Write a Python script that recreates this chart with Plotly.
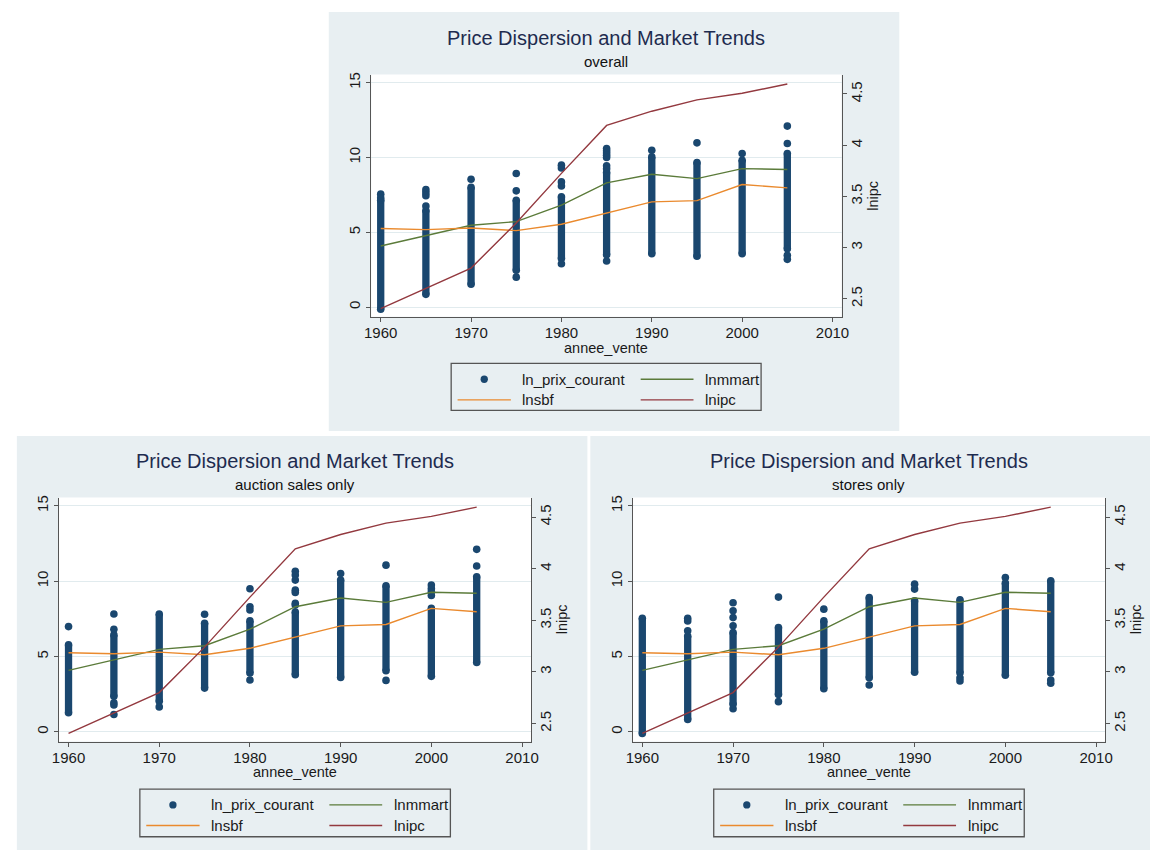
import plotly.graph_objects as go

W, H = 1158, 850

# ---------------- data ----------------
years = [1960, 1965, 1970, 1975, 1980, 1985, 1990, 1995, 2000, 2005]

lnmmart = [4.08, 4.80, 5.47, 5.71, 6.81, 8.30, 8.88, 8.59, 9.26, 9.20]
lnsbf = [5.25, 5.18, 5.29, 5.11, 5.54, 6.29, 7.03, 7.12, 8.19, 7.97]
lnipc = [2.405, 2.600, 2.800, 3.240, 3.725, 4.193, 4.332, 4.442, 4.507, 4.597]

# ln_prix_courant: each year's dense band (lowest / highest observation of the
# continuous band) plus the isolated observations outside / around it
overall_lo = [-0.15, 0.85, 1.52, 2.46, 3.24, 3.50, 3.57, 3.40, 3.57, 3.90]
overall_hi = [7.15, 6.45, 8.00, 7.14, 7.37, 9.00, 10.04, 9.67, 9.82, 10.27]
overall_out = [
    [7.55, 7.30],
    [7.85, 7.65, 7.45, 6.75],
    [8.55],
    [8.93, 7.77, 2.00],
    [9.49, 9.30, 8.37, 8.10, 2.90],
    [10.60, 10.45, 10.30, 10.15, 10.00, 9.45, 9.25, 3.08],
    [10.49],
    [10.98],
    [10.27],
    [12.10, 10.94, 3.46, 3.19],
]

auction_lo = [1.26, 2.36, 2.03, 2.90, 3.90, 3.79, 3.61, 4.05, 3.68, 4.60]
auction_hi = [5.77, 6.43, 7.82, 7.20, 7.36, 7.95, 10.07, 9.69, 8.19, 10.29]
auction_out = [
    [6.98],
    [7.82, 6.81, 1.92, 1.78, 1.15],
    [1.65],
    [7.80],
    [9.49, 8.30, 8.08, 3.44],
    [10.66, 10.40, 10.07, 9.40, 9.25, 8.52, 8.41],
    [10.50],
    [11.06, 3.41],
    [9.74, 9.50, 9.30, 9.05],
    [12.11, 11.00],
]

stores_lo = [-0.11, 0.82, 1.82, 2.48, 2.86, 3.59, 3.95, 3.92, 3.75, 3.92]
stores_hi = [7.54, 6.36, 6.59, 6.92, 7.36, 8.91, 8.70, 8.76, 9.87, 10.02]
stores_out = [
    [],
    [7.54, 7.36, 6.70],
    [8.56, 8.03, 7.58, 7.03, 1.53],
    [8.94, 2.00],
    [8.14],
    [3.10],
    [9.80, 9.47],
    [3.59, 3.37],
    [10.24],
    [3.44, 3.22],
]

main_title = "Price Dispersion and Market Trends"
subtitles = ["overall", "auction sales only", "stores only"]
series_names = ["ln_prix_courant", "lnmmart", "lnsbf", "lnipc"]
x_title = "annee_vente"
right_title = "lnipc"

x_ticks = [1960, 1970, 1980, 1990, 2000, 2010]
left_ticks = [0, 5, 10, 15]
right_ticks = [2.5, 3, 3.5, 4, 4.5]
right_ticktext = ["2.5", "3", "3.5", "4", "4.5"]

# ---------------- styles / layout geometry ----------------
NAVY = "#1A476F"
GREEN = "#5B7B3A"
ORANGE = "#EA8A2E"
MAROON = "#93393F"
PANEL_BG = "#E8EFF2"
GRID = "#E1EBEE"
AXIS = "#555555"
TITLE_C = "#1E2B4F"
TXT = "#1a1a1a"
FONT = "Liberation Sans"

X_RANGE = [1958.95, 2011.0]
YL_RANGE = [-0.65, 15.55]
YR_RANGE = [2.325, 4.69]

panels = [
    dict(lo=overall_lo, hi=overall_hi, out=overall_out, sub=subtitles[0],
         bg=(326, 10, 904, 430), plot=(369, 72.7, 845.5, 315.5),
         title_y=36, sub_y=60, leg=(450, 362.3, 764, 409.3)),
    dict(lo=auction_lo, hi=auction_hi, out=auction_out, sub=subtitles[1],
         bg=(10, 435, 588, 850), plot=(52.7, 496.7, 531, 741.3),
         title_y=460, sub_y=483.3, leg=(134.6, 789, 449.2, 836.7)),
    dict(lo=stores_lo, hi=stores_hi, out=stores_out, sub=subtitles[2],
         bg=(591, 435, 1158, 850), plot=(634, 496.7, 1112.6, 741.3),
         title_y=460, sub_y=483.3, leg=(716, 789, 1030.6, 836.7)),
]


def fx(p):
    return p / W


def fy(p):
    return 1 - p / H


fig = go.Figure()
shapes = []
annotations = []
layout_axes = {}

for i, p in enumerate(panels):
    n = i + 1
    xa = "x" if n == 1 else f"x{n}"
    ya = "y" if n == 1 else f"y{n}"
    yr = f"y{n + 3}"

    # dense bands
    bx, by = [], []
    for yv, lo, hi in zip(years, p["lo"], p["hi"]):
        bx += [yv, yv, None]
        by += [lo, hi, None]
    fig.add_trace(go.Scatter(x=bx, y=by, mode="lines",
                             line=dict(color=NAVY, width=7.3),
                             xaxis=xa, yaxis=ya, showlegend=False,
                             hoverinfo="skip"))
    # individual observations
    mx, my = [], []
    for yv, lo, hi, outs in zip(years, p["lo"], p["hi"], p["out"]):
        for v in [lo, hi] + list(outs):
            mx.append(yv)
            my.append(v)
    fig.add_trace(go.Scatter(x=mx, y=my, mode="markers", name=series_names[0],
                             marker=dict(color=NAVY, size=7.6),
                             xaxis=xa, yaxis=ya, showlegend=False))
    fig.add_trace(go.Scatter(x=years, y=lnmmart, mode="lines", name=series_names[1],
                             line=dict(color=GREEN, width=1.4),
                             xaxis=xa, yaxis=ya, showlegend=False))
    fig.add_trace(go.Scatter(x=years, y=lnsbf, mode="lines", name=series_names[2],
                             line=dict(color=ORANGE, width=1.4),
                             xaxis=xa, yaxis=ya, showlegend=False))
    fig.add_trace(go.Scatter(x=years, y=lnipc, mode="lines", name=series_names[3],
                             line=dict(color=MAROON, width=1.4),
                             xaxis=xa, yaxis=yr, showlegend=False))

    x0, y0, x1, y1 = p["plot"]
    xdom = [fx(x0), fx(x1)]
    ydom = [fy(y1), fy(y0)]
    tickfont = dict(family=FONT, size=15, color=TXT)
    common = dict(showline=True, linecolor=AXIS, linewidth=1.3, ticks="outside",
                  ticklen=4, tickwidth=1, tickcolor=AXIS, zeroline=False,
                  tickfont=tickfont)
    layout_axes["xaxis" if n == 1 else f"xaxis{n}"] = dict(
        domain=xdom, anchor=ya, range=X_RANGE, tickvals=x_ticks,
        showgrid=False, ticklabelstandoff=-2, **common)
    layout_axes["yaxis" if n == 1 else f"yaxis{n}"] = dict(
        domain=ydom, anchor=xa, range=YL_RANGE, tickvals=left_ticks,
        tickangle=-90, showgrid=True, gridcolor=GRID, gridwidth=1.2, **common)
    layout_axes[f"yaxis{n + 3}"] = dict(
        overlaying=ya, anchor=xa, side="right", range=YR_RANGE,
        tickvals=right_ticks, ticktext=right_ticktext, tickangle=-90,
        showgrid=False, ticklabelstandoff=-3, **common)

    # panel background + white plot region
    bx0, by0, bx1, by1 = p["bg"]
    shapes.append(dict(type="rect", xref="paper", yref="paper", layer="below",
                       x0=fx(bx0), x1=fx(bx1), y0=fy(by1), y1=fy(by0),
                       fillcolor=PANEL_BG, line=dict(width=0)))
    shapes.append(dict(type="rect", xref="paper", yref="paper", layer="below",
                       x0=fx(x0), x1=fx(x1), y0=fy(y1), y1=fy(y0),
                       fillcolor="white", line=dict(width=0)))

    cxm = (x0 + x1) / 2
    annotations.append(dict(text=main_title, x=fx(cxm), y=fy(p["title_y"]),
                            xref="paper", yref="paper", showarrow=False,
                            xanchor="center", yanchor="middle",
                            font=dict(family=FONT, size=20, color=TITLE_C)))
    annotations.append(dict(text=p["sub"], x=fx(cxm), y=fy(p["sub_y"]),
                            xref="paper", yref="paper", showarrow=False,
                            xanchor="center", yanchor="middle",
                            font=dict(family=FONT, size=15, color="#111111")))
    annotations.append(dict(text=x_title, x=fx(cxm), y=fy(y1 + 31),
                            xref="paper", yref="paper", showarrow=False,
                            xanchor="center", yanchor="middle",
                            font=dict(family=FONT, size=14.5, color=TXT)))
    annotations.append(dict(text=right_title, x=fx(x1 + 31),
                            y=fy((y0 + y1) / 2), textangle=-90,
                            xref="paper", yref="paper", showarrow=False,
                            xanchor="center", yanchor="middle",
                            font=dict(family=FONT, size=14.5, color=TXT)))

    # legend box
    lx0, ly0, lx1, ly1 = p["leg"]
    shapes.append(dict(type="rect", xref="paper", yref="paper", layer="above",
                       x0=fx(lx0), x1=fx(lx1), y0=fy(ly1), y1=fy(ly0),
                       fillcolor="rgba(0,0,0,0)", line=dict(color=AXIS, width=1.3)))
    r1, r2 = ly0 + 15.8, ly0 + 36.5
    c2 = lx0 + 192
    rad = 3.7
    shapes.append(dict(type="circle", xref="paper", yref="paper", layer="above",
                       x0=fx(lx0 + 33.5 - rad), x1=fx(lx0 + 33.5 + rad),
                       y0=fy(r1 + rad), y1=fy(r1 - rad),
                       fillcolor=NAVY, line=dict(width=0)))
    for (xa0, xa1, yy, col) in [(c2, c2 + 53.5, r1, GREEN),
                                (lx0 + 6.5, lx0 + 60.5, r2, ORANGE),
                                (c2, c2 + 53.5, r2, MAROON)]:
        shapes.append(dict(type="line", xref="paper", yref="paper", layer="above",
                           x0=fx(xa0), x1=fx(xa1), y0=fy(yy), y1=fy(yy),
                           line=dict(color=col, width=1.4)))
    for (tx, ty, t) in [(lx0 + 70, r1, series_names[0]),
                        (lx0 + 255.5, r1, series_names[1]),
                        (lx0 + 70, r2, series_names[2]),
                        (lx0 + 255.5, r2, series_names[3])]:
        annotations.append(dict(text=t, x=fx(tx), y=fy(ty), xref="paper",
                                yref="paper", showarrow=False, xanchor="left",
                                yanchor="middle",
                                font=dict(family=FONT, size=15, color=TXT)))

fig.update_layout(
    width=W, height=H, autosize=False,
    margin=dict(l=0, r=0, t=0, b=0, pad=0),
    paper_bgcolor="white", plot_bgcolor="white",
    showlegend=False, shapes=shapes, annotations=annotations,
    font=dict(family=FONT, size=14, color=TXT),
    **layout_axes,
)

fig.write_html("out.html", config={"displayModeBar": False},
               post_script="document.body.style.margin='0';")
